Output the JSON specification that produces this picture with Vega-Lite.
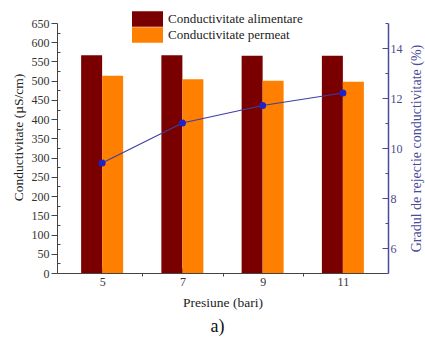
{
  "$schema": "https://vega.github.io/schema/vega-lite/v6.json",
  "width": 331,
  "height": 250,
  "autosize": "none",
  "padding": {"left": 57, "top": 23, "right": 37, "bottom": 64},
  "background": "white",
  "config": {
    "view": {"stroke": null},
    "font": "Liberation Serif",
    "axis": {"labelFont": "Liberation Serif", "titleFont": "Liberation Serif", "titleFontWeight": "normal", "grid": false},
    "legend": {"labelFont": "Liberation Serif"},
    "title": {"font": "Liberation Serif"}
  },
  "title": {
    "text": "a)",
    "orient": "bottom",
    "font": "Liberation Serif",
    "fontSize": 18,
    "fontWeight": "normal",
    "color": "#111",
    "offset": 9,
    "dx": -5
  },
  "datasets": {
    "conductivitate": [
      {"presiune": 5, "serie": "Conductivitate alimentare", "valoare": 566},
      {"presiune": 7, "serie": "Conductivitate alimentare", "valoare": 566},
      {"presiune": 9, "serie": "Conductivitate alimentare", "valoare": 565},
      {"presiune": 11, "serie": "Conductivitate alimentare", "valoare": 565},
      {"presiune": 5, "serie": "Conductivitate permeat", "valoare": 513},
      {"presiune": 7, "serie": "Conductivitate permeat", "valoare": 504},
      {"presiune": 9, "serie": "Conductivitate permeat", "valoare": 500},
      {"presiune": 11, "serie": "Conductivitate permeat", "valoare": 497}
    ],
    "rejectie": [
      {"presiune": 5, "rejectie": 9.4},
      {"presiune": 7, "rejectie": 11.0},
      {"presiune": 9, "rejectie": 11.7},
      {"presiune": 11, "rejectie": 12.2}
    ]
  },
  "layer": [
    {
      "data": {"name": "conductivitate"},
      "encoding": {
        "x": {
          "field": "presiune",
          "type": "quantitative",
          "scale": {"domain": [4, 12], "nice": false, "zero": false},
          "axis": {
            "title": "Presiune (bari)",
            "values": [5, 6, 7, 8, 9, 10, 11],
            "labelExpr": "datum.value % 2 === 1 ? datum.label : ''",
            "tickSize": {"condition": {"test": "datum.value % 2 === 1", "value": -5}, "value": 3},
            "labelFont": "Liberation Serif",
            "titleFont": "Liberation Serif",
            "labelFontSize": 12,
            "labelColor": "#333",
            "labelPadding": 8,
            "titleFontSize": 13.5,
            "titleColor": "#222",
            "titlePadding": 8,
            "domainColor": "#444",
            "tickColor": "#444"
          }
        },
        "y": {
          "field": "valoare",
          "type": "quantitative",
          "scale": {"domain": [0, 650], "nice": false},
          "axis": {
            "title": "Conductivitate (µS/cm)",
            "values": [0, 25, 50, 75, 100, 125, 150, 175, 200, 225, 250, 275, 300, 325, 350, 375, 400, 425, 450, 475, 500, 525, 550, 575, 600, 625, 650],
            "labelExpr": "datum.value % 50 === 0 ? datum.label : ''",
            "tickSize": {"condition": {"test": "datum.value % 50 === 0", "value": 6}, "value": -3},
            "labelFont": "Liberation Serif",
            "titleFont": "Liberation Serif",
            "labelFontSize": 12,
            "labelColor": "#333",
            "labelPadding": 2,
            "titleFontSize": 13.5,
            "titleColor": "#222",
            "titlePadding": 6,
            "titleY": 114,
            "domainColor": "#444",
            "tickColor": "#444"
          }
        },
        "color": {
          "field": "serie",
          "type": "nominal",
          "scale": {
            "domain": ["Conductivitate alimentare", "Conductivitate permeat"],
            "range": ["#7a0000", "#ff8000"]
          },
          "legend": {
            "title": null,
            "orient": "none",
            "legendX": 75,
            "legendY": -12,
            "symbolType": "M-1,-0.5H1V0.5H-1Z",
            "symbolSize": 961,
            "symbolStrokeWidth": 0,
            "clipHeight": 16,
            "rowPadding": 0,
            "padding": 0,
            "labelFont": "Liberation Serif",
            "labelFontSize": 13,
            "labelColor": "#222",
            "labelOffset": 5
          }
        }
      },
      "layer": [
        {
          "transform": [{"filter": "datum.serie === 'Conductivitate alimentare'"}],
          "mark": {"type": "bar", "width": 21, "xOffset": -10.5}
        },
        {
          "transform": [{"filter": "datum.serie === 'Conductivitate permeat'"}],
          "mark": {"type": "bar", "width": 21, "xOffset": 10.5}
        }
      ]
    },
    {
      "data": {"name": "rejectie"},
      "encoding": {
        "x": {"field": "presiune", "type": "quantitative"},
        "y": {
          "field": "rejectie",
          "type": "quantitative",
          "scale": {"domain": [5, 15], "nice": false, "zero": false},
          "axis": {
            "orient": "right",
            "title": "Gradul de rejectie conductivitate (%)",
            "titleAngle": 270,
            "values": [5, 6, 7, 8, 9, 10, 11, 12, 13, 14, 15],
            "labelExpr": "datum.value % 2 === 0 ? datum.label : ''",
            "tickSize": {"condition": {"test": "datum.value % 2 === 0", "value": -6}, "value": -3},
            "labelFont": "Liberation Serif",
            "titleFont": "Liberation Serif",
            "labelFontSize": 12,
            "labelColor": "#4a4a8c",
            "labelPadding": 8,
            "titleFontSize": 14,
            "titleColor": "#4a4a9a",
            "titlePadding": 21,
            "domainColor": "#4a4a9a",
            "domainWidth": 1.5,
            "tickColor": "#4a4a9a"
          }
        }
      },
      "layer": [
        {"mark": {"type": "line", "color": "#3f3fa0", "strokeWidth": 1.2}},
        {"mark": {"type": "point", "filled": true, "color": "#2121c8", "size": 50, "opacity": 1}}
      ]
    }
  ],
  "resolve": {"scale": {"y": "independent"}}
}
